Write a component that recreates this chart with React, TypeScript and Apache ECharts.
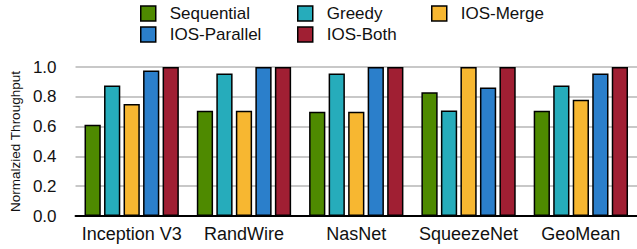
import React, { useEffect, useRef } from "react";
import * as echarts from "echarts";

const categories = ["Inception V3", "RandWire", "NasNet", "SqueezeNet", "GeoMean"];
const seriesNames = ["Sequential", "Greedy", "IOS-Merge", "IOS-Parallel", "IOS-Both"];
const sequential = [0.612, 0.706, 0.70, 0.83, 0.706];
const greedy = [0.876, 0.957, 0.957, 0.708, 0.876];
const iosMerge = [0.751, 0.706, 0.70, 1.0, 0.78];
const iosParallel = [0.977, 1.0, 1.0, 0.863, 0.957];
const iosBoth = [1.0, 1.0, 1.0, 1.0, 1.0];
const colors = ["#4E8A00", "#26ACBB", "#F7B731", "#2B7FCB", "#A01F33"];

export default function App() {
  const ref = useRef<HTMLDivElement>(null);
  useEffect(() => {
    if (!ref.current) return;
    const chart = echarts.init(ref.current, null, { renderer: "svg" });
    const values = [sequential, greedy, iosMerge, iosParallel, iosBoth];
    const legendPos = [
      { left: 140, top: 5 },
      { left: 297, top: 5 },
      { left: 431, top: 5 },
      { left: 140, top: 26 },
      { left: 297, top: 26 },
    ];
    chart.setOption({
      animation: false,
      textStyle: { fontFamily: "Liberation Sans, Arial, sans-serif" },
      legend: seriesNames.map((n, i) => ({
        data: [n],
        left: legendPos[i].left,
        top: legendPos[i].top,
        icon: "rect",
        itemWidth: 15,
        itemHeight: 15,
        itemGap: 0,
        padding: 0,
        selectedMode: false,
        itemStyle: { borderColor: "#000", borderWidth: 1.5 },
        textStyle: { fontSize: 17, color: "#111", padding: [0, 0, 0, 9] },
      })),
      grid: { left: 75, right: -2, top: 67, bottom: 33, containLabel: false },
      xAxis: {
        type: "category",
        data: categories,
        axisLine: { lineStyle: { color: "#000", width: 2 } },
        axisTick: { show: false },
        axisLabel: { fontSize: 18, color: "#111", margin: 9, interval: 0 },
      },
      yAxis: {
        type: "value",
        min: 0,
        max: 1,
        interval: 0.2,
        name: "Normalzied Throughput",
        nameLocation: "middle",
        nameGap: 51,
        nameTextStyle: { fontSize: 13.5, color: "#111" },
        axisLine: { show: false },
        axisTick: { show: false },
        axisLabel: {
          fontSize: 17,
          color: "#111",
          margin: 19,
          formatter: (v: number) => v.toFixed(1),
        },
        splitLine: { lineStyle: { color: "#c8c8c8", width: 2 } },
      },
      series: seriesNames.map((n, i) => ({
        name: n,
        type: "bar",
        data: values[i],
        barGap: "20%",
        barCategoryGap: "16%",
        itemStyle: { color: colors[i], borderColor: "#000", borderWidth: 1.5 },
      })),
    });
    return () => chart.dispose();
  }, []);
  return <div ref={ref} style={{ width: 637, height: 249, position: "absolute", left: 0, top: 0 }} />;
}
